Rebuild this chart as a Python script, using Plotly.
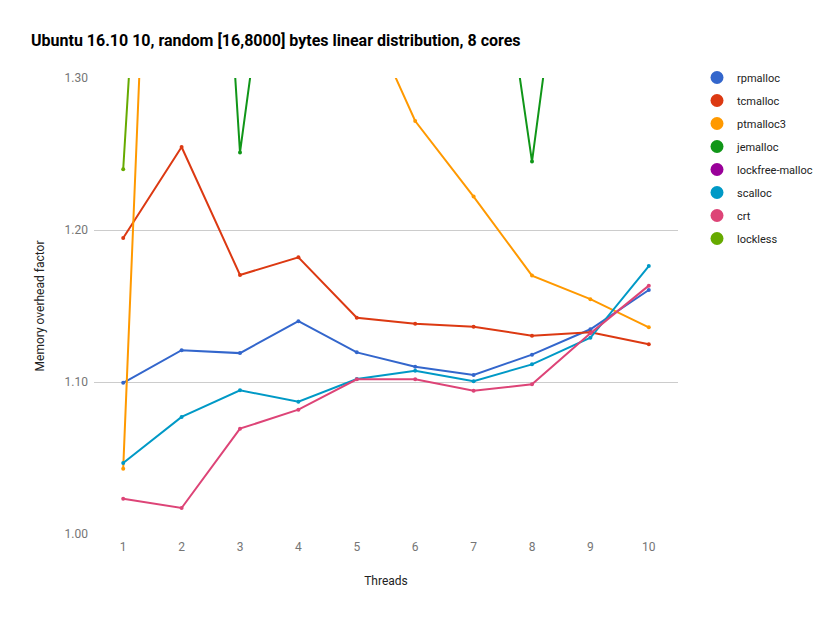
import plotly.graph_objects as go

threads = [1, 2, 3, 4, 5, 6, 7, 8, 9, 10]

rpmalloc = [1.0995, 1.1209, 1.1190, 1.1400, 1.1195, 1.1101, 1.1046, 1.1180, 1.1347, 1.1605]
tcmalloc = [1.1947, 1.2546, 1.1704, 1.1820, 1.1423, 1.1384, 1.1364, 1.1305, 1.1327, 1.1248]
ptmalloc3 = [1.0430, 1.9800, 1.7500, 1.5500, 1.3570, 1.2717, 1.2220, 1.1700, 1.1545, 1.1360]
jemalloc = [1.9000, 1.8550, 1.2510, 1.5350, 1.6000, 1.6000, 1.5100, 1.2450, 1.5340, 1.6000]
lockfree_malloc = [2.1000, 2.2000, 2.3000, 2.4000, 2.4000, 2.5000, 2.5000, 2.6000, 2.6000, 2.7000]
scalloc = [1.0467, 1.0770, 1.0945, 1.0870, 1.1020, 1.1074, 1.1005, 1.1116, 1.1291, 1.1763]
crt = [1.0232, 1.0171, 1.0693, 1.0818, 1.1018, 1.1018, 1.0943, 1.0985, 1.1320, 1.1634]
lockless = [1.2400, 1.8630, 1.9000, 1.9500, 2.0000, 2.0000, 2.0500, 2.0500, 2.1000, 2.1000]

series = [
    ("rpmalloc", rpmalloc, "#3366cc"),
    ("tcmalloc", tcmalloc, "#dc3912"),
    ("ptmalloc3", ptmalloc3, "#ff9900"),
    ("jemalloc", jemalloc, "#109618"),
    ("lockfree-malloc", lockfree_malloc, "#990099"),
    ("scalloc", scalloc, "#0099c6"),
    ("crt", crt, "#dd4477"),
    ("lockless", lockless, "#66aa00"),
]

y_ticks = [1.00, 1.10, 1.20, 1.30]
y_tick_labels = ["1.00", "1.10", "1.20", "1.30"]

fig = go.Figure()
for name, vals, color in series:
    fig.add_trace(go.Scatter(
        x=threads, y=vals, mode="lines+markers", name=name,
        line=dict(color=color, width=2), marker=dict(color=color, size=4),
        showlegend=False, cliponaxis=True,
    ))
for i, (name, vals, color) in enumerate(series):
    fig.add_trace(go.Scatter(
        x=[None], y=[None], mode="markers", name=name,
        marker=dict(color=color, size=13), legendgroup=f"g{i}",
        showlegend=True,
    ))

fig.update_layout(
    width=830, height=619,
    margin=dict(l=94, r=152, t=78, b=85),
    paper_bgcolor="white", plot_bgcolor="white",
    font=dict(family="Roboto, Arial, sans-serif", size=12, color="#222222"),
    title=dict(
        text="<b>Ubuntu 16.10 10, random [16,8000] bytes linear distribution, 8 cores</b>",
        x=31 / 830, xanchor="left", y=1 - 40 / 619, yanchor="middle",
        font=dict(size=16, color="#000000", family="Roboto, Arial, sans-serif"),
    ),
    xaxis=dict(
        range=[0.5, 10.5], tickmode="array", tickvals=threads,
        ticktext=[str(t) for t in threads], showgrid=False, zeroline=False,
        showline=False, ticks="", tickfont=dict(color="#757575", size=12),
        ticklabelstandoff=4,
        title=dict(text="Threads", font=dict(size=12, color="#222222"), standoff=23),
    ),
    yaxis=dict(
        range=[1.0, 1.3], tickmode="array", tickvals=y_ticks, ticktext=y_tick_labels,
        showgrid=True, gridcolor="#cccccc", gridwidth=1, zeroline=False,
        showline=False, ticks="", tickfont=dict(color="#757575", size=12),
        ticklabelstandoff=5,
        title=dict(text="Memory overhead factor", font=dict(size=12, color="#222222"), standoff=17),
    ),
    legend=dict(
        x=(697 - 94) / 584, xanchor="left", y=(534 - 63) / 456, yanchor="top",
        font=dict(size=11, color="#222222"), tracegroupgap=4,
        bgcolor="rgba(0,0,0,0)", itemsizing="trace",
    ),
)

fig.write_html("out.html")
